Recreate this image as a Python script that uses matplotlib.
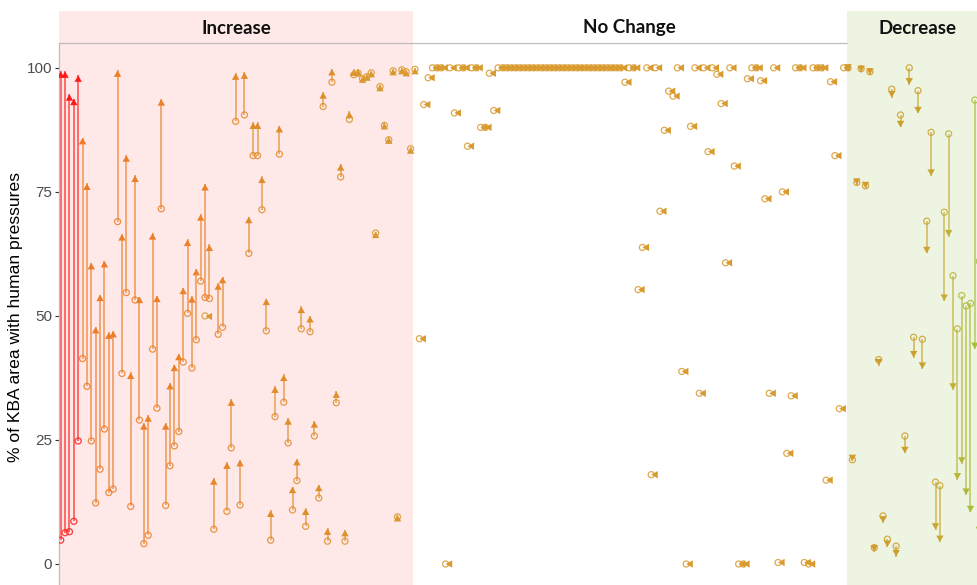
import numpy as np
import matplotlib
matplotlib.use("Agg")
import matplotlib.pyplot as plt
from matplotlib.path import Path
from matplotlib.patches import Rectangle
import matplotlib.transforms as mtransforms
from matplotlib.colors import to_rgb

# ---------------------------------------------------------------
# KBAs where the share of area under human pressure increased
# (ordered left to right), start and end values in %
inc_start = [4.8, 6.3, 6.5, 8.6, 24.8, 41.4, 35.8, 24.8, 12.3, 19.1,
             27.2, 14.4, 15.1, 69.0, 38.4, 54.7, 11.6, 53.2, 29.0, 4.1,
             5.8, 43.3, 31.4, 71.6, 11.8, 19.8, 23.8, 26.7, 40.7, 50.5,
             39.5, 45.2, 57.0, 53.7, 53.5, 7.0, 46.3, 47.7, 10.6, 23.4,
             89.2, 11.9, 90.5, 62.6, 82.3, 82.3, 71.4, 47.0, 4.8, 29.7,
             82.6, 32.6, 24.4, 10.9, 16.8, 47.4, 7.6, 46.8, 25.8, 13.3,
             92.2, 4.6, 97.1, 32.5, 78.0, 4.6, 89.6, 98.6, 98.9, 97.8,
             98.2, 99.0, 66.7, 96.2, 88.4, 85.5, 99.4, 9.5, 99.6, 99.2,
             83.7, 99.7]
inc_end = [99.3, 99.3, 94.7, 93.8, 98.5, 85.9, 76.7, 60.7, 47.8, 54.3,
           61.1, 46.7, 47.0, 99.5, 66.5, 82.4, 38.6, 78.3, 53.9, 28.4,
           30.0, 66.7, 54.1, 93.7, 28.4, 36.5, 40.2, 42.4, 55.7, 65.4,
           54.0, 59.5, 70.5, 76.6, 64.4, 17.3, 56.6, 57.9, 20.5, 33.2,
           98.9, 21.0, 99.1, 70.0, 89.0, 89.0, 78.1, 53.5, 10.8, 35.8,
           88.3, 38.2, 29.4, 15.6, 21.2, 51.9, 11.2, 50.0, 28.8, 16.0,
           95.1, 7.2, 99.8, 34.8, 80.6, 6.9, 91.2, 99.7, 99.7, 98.3,
           98.7, 99.4, 67.0, 96.6, 88.9, 86.0, 99.8, 9.9, 100.0, 99.6,
           84.0, 100.0]
# one KBA inside the increase block whose value stayed the same
inc_flat_pos = [33]
inc_flat_val = [50.0]

# KBAs with no change (positions 82-179), one value per KBA
nc_values = [45.4, 92.6, 98.0, 100, 100, 100, 0.0, 100, 90.9, 100,
             100, 84.2, 100, 100, 88.0, 88.0, 98.9, 91.4,
             100, 100, 100, 100, 100, 100, 100, 100, 100, 100,
             100, 100, 100, 100, 100, 100, 100, 100, 100, 100,
             100, 100, 100, 100, 100, 100, 100, 100, 100,
             97.1, 100, 100, 55.3, 63.8, 100, 18.0, 100, 71.1, 87.4,
             95.3, 94.3, 100, 38.8, 0.0, 88.2, 100, 34.4, 100, 83.1,
             100, 98.7, 92.8, 60.7, 100, 80.2, 0.0, 0.0, 97.8, 100,
             100, 97.4, 73.6, 34.4, 100, 0.3, 75.0, 22.3, 33.9, 100,
             100, 0.3, 0.0, 100, 100, 100, 16.9, 97.2, 82.3, 31.3,
             100]

# KBAs where the share decreased (positions 180 onwards)
dec_start = [100.0, 21.0, 76.9, 99.8, 76.2, 99.2, 3.3, 41.2, 9.7, 5.0,
             95.7, 3.6, 90.5, 25.8, 100.0, 45.7, 95.4, 45.3, 69.1, 87.0,
             16.5, 15.8, 70.9, 86.7, 58.1, 47.4, 54.1, 52.0, 52.5, 93.5,
             61.0]
dec_end = [99.4, 20.7, 76.4, 99.1, 75.7, 98.6, 2.5, 40.0, 8.3, 3.4,
           94.0, 1.5, 88.0, 22.3, 96.6, 41.6, 90.8, 39.3, 62.6, 78.2,
           6.9, 4.4, 53.0, 66.0, 35.1, 17.0, 20.2, 13.9, 10.4, 43.3,
           6.2]

group_labels = ["Increase", "No Change", "Decrease"]
y_ticks = [0, 25, 50, 75, 100]
y_title = "% of KBA area with human pressures"

# ---------------------------------------------------------------
n_inc = len(inc_start)
n_nc = len(nc_values)
inc_pos = np.arange(n_inc)
nc_pos = np.arange(n_inc, n_inc + n_nc)
dec_pos = np.arange(n_inc + n_nc, n_inc + n_nc + len(dec_start))

# colour by amount of change
col_anchor_change = [-60, -35, -15, -2, 0, 3, 15, 45, 60, 75]
col_anchor_hex = ['#9CC43C', '#B3B83A', '#C9AC36', '#CC9E2C', '#D99A2E',
                  '#DE8F2C', '#EA8228', '#EE7A26', '#FF3020', '#FF1A1A']
anchor_rgb = np.array([to_rgb(h) for h in col_anchor_hex])


def change_colour(delta):
    delta = np.atleast_1d(np.asarray(delta, float))
    out = np.column_stack([np.interp(delta, col_anchor_change, anchor_rgb[:, k])
                           for k in range(3)])
    return out


# arrow-head markers with the tip at the data point
hw = 0.56
up_head = Path([(0, 0), (-hw, -1), (hw, -1), (0, 0)],
               [Path.MOVETO, Path.LINETO, Path.LINETO, Path.CLOSEPOLY])
down_head = Path([(0, 0), (-hw, 1), (hw, 1), (0, 0)],
                 [Path.MOVETO, Path.LINETO, Path.LINETO, Path.CLOSEPOLY])
left_head = Path([(0, 0), (1, -hw), (1, hw), (0, 0)],
                 [Path.MOVETO, Path.LINETO, Path.LINETO, Path.CLOSEPOLY])

W, H = 977, 585
fig = plt.figure(figsize=(W / 100, H / 100), dpi=100)
ax_left, ax_top, ax_bottom = 59, 43, 588.8
ax = fig.add_axes([ax_left / W, (H - ax_bottom) / H,
                   (W - ax_left) / W, (ax_bottom - ax_top) / H])
ax.set_ylim(-5, 105)
px_per_kba = 4.374
ax.set_xlim(-1.7 / px_per_kba, (W - ax_left - 1.7) / px_per_kba)

# shaded group backgrounds reaching up into the header strip
band = mtransforms.blended_transform_factory(ax.transData, fig.transFigure)
inc_edge = n_inc - 1.5
dec_edge = n_inc + n_nc - 0.25
x_lo = ax.get_xlim()[0]
dec_right = dec_edge + 32.45
ax.add_patch(Rectangle((x_lo, 0), inc_edge - x_lo, 1 - 11 / H, transform=band,
                       facecolor='#FFE8E8', edgecolor='none', zorder=0,
                       clip_on=False))
ax.add_patch(Rectangle((dec_edge, 0), dec_right - dec_edge, 1 - 11 / H,
                       transform=band, facecolor='#EDF4E1', edgecolor='none',
                       zorder=0, clip_on=False))
label_x = [(x_lo + inc_edge) / 2, (inc_edge + dec_edge) / 2,
           (dec_edge + dec_right) / 2]
for lx, txt in zip(label_x, group_labels):
    ax.text(lx, 1 - 28 / H, txt, transform=band, ha='center', va='center',
            fontsize=13.5, fontweight='bold', family='Lato', color='#111111',
            clip_on=False)

# panel border along the top, stopping where the decrease band starts
ax.plot([x_lo, dec_edge], [105, 105], color='#BDBDBD', linewidth=0.9,
        clip_on=False, zorder=2.5, solid_capstyle='butt')

circle_kw = dict(s=19, facecolors='none', linewidths=0.9, zorder=3)
head_s = 90
line_kw = dict(linewidth=1.1, alpha=0.78, zorder=2)

# increases
ia = np.array(inc_start)
ib = np.array(inc_end)
icol = change_colour(ib - ia)
ax.vlines(inc_pos, ia, ib, colors=icol, **line_kw)
ax.scatter(inc_pos, ia, edgecolors=icol, alpha=0.85, **circle_kw)
ax.scatter(inc_pos, ib, marker=up_head, s=head_s, c=icol, linewidths=0,
           zorder=4)
fcol = change_colour(np.zeros(len(inc_flat_pos)))
ax.scatter(inc_flat_pos, inc_flat_val, edgecolors=fcol, alpha=0.85,
           **circle_kw)
ax.scatter(inc_flat_pos, inc_flat_val, marker=left_head, s=head_s, c=fcol,
           linewidths=0, zorder=4)

# no change
nv = np.array(nc_values, float)
ncol = change_colour(np.zeros(n_nc))
ax.scatter(nc_pos, nv, edgecolors=ncol, alpha=0.85, **circle_kw)
ax.scatter(nc_pos, nv, marker=left_head, s=head_s, c=ncol, linewidths=0,
           zorder=4)

# decreases
da = np.array(dec_start)
db = np.array(dec_end)
dcol = change_colour(db - da)
ax.vlines(dec_pos, db, da, colors=dcol, **line_kw)
ax.scatter(dec_pos, da, edgecolors=dcol, alpha=0.85, **circle_kw)
ax.scatter(dec_pos, db, marker=down_head, s=head_s, c=dcol, linewidths=0,
           zorder=4)

# axes styling
ax.set_facecolor('white')
for side in ('right', 'bottom', 'top'):
    ax.spines[side].set_visible(False)
ax.spines['left'].set_color('#BDBDBD')
ax.spines['left'].set_linewidth(0.9)
ax.set_xticks([])
ax.set_yticks(y_ticks)
ax.set_yticklabels([str(t) for t in y_ticks], family='Liberation Sans')
ax.tick_params(axis='y', length=2.8, width=0.8, color='#333333',
               labelcolor='#4D4D4D', labelsize=11, pad=2)
fig.text(16 / W, 1 - 317 / H, y_title, rotation=90, ha='center', va='center',
         fontsize=12.6, family='Liberation Sans', color='black')

fig.savefig('out.png', dpi=100)
